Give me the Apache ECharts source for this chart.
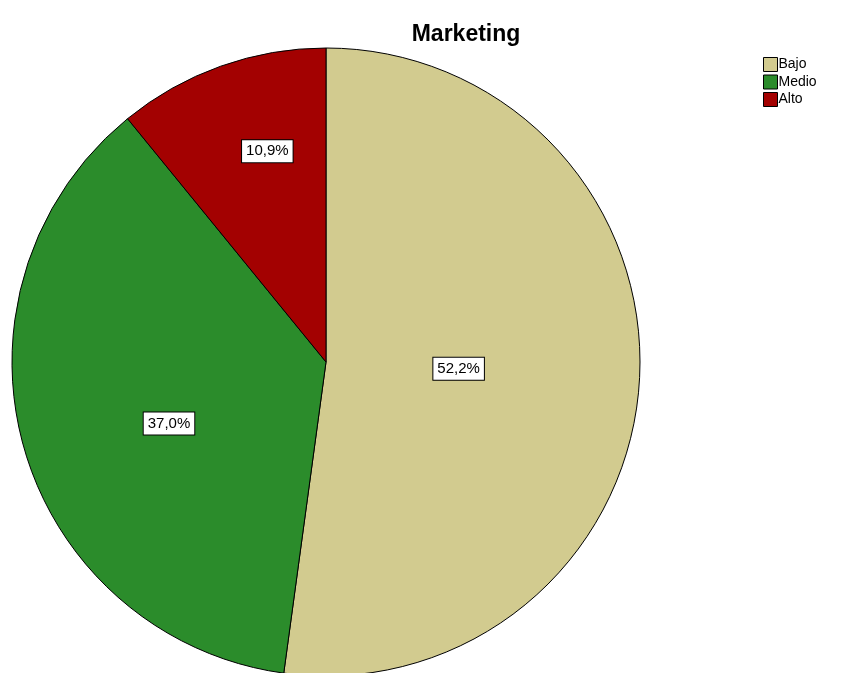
<!DOCTYPE html>
<html>
<head>
<meta charset="utf-8">
<script src="https://cdn.jsdelivr.net/npm/echarts@6/dist/echarts.min.js"></script>
<style>
  html, body { margin: 0; padding: 0; background: #fff; }
  #chart { width: 843px; height: 673px; }
</style>
</head>
<body>
<div id="chart"></div>
<script>
// Marketing level distribution (percent of respondents)
const categories = ['Bajo', 'Medio', 'Alto'];
const percents = [52.2, 37.0, 10.9];
const colors = ['#D2CB8F', '#2B8C2B', '#A30101'];
// Label nudges inside each slice
const labelOffsets = [[-27, -4], [-3, 18], [-5, -60]];

const chart = echarts.init(document.getElementById('chart'));

const data = categories.map((name, i) => ({
  name,
  value: percents[i],
  itemStyle: { color: colors[i] },
  label: { offset: labelOffsets[i] }
}));

chart.setOption({
  animation: false,
  title: {
    text: 'Marketing',
    left: 461,
    top: 18,
    textAlign: 'center',
    textStyle: { fontFamily: 'Liberation Sans, Arial', fontSize: 23, fontWeight: 'bold', color: '#000' }
  },
  legend: {
    orient: 'vertical',
    left: 758,
    top: 52,
    itemWidth: 14,
    itemHeight: 14,
    itemGap: 2.5,
    icon: 'rect',
    data: categories.map(name => ({ name, itemStyle: { borderColor: '#000', borderWidth: 1 } })),
    textStyle: { fontFamily: 'Liberation Sans, Arial', fontSize: 14, color: '#000', padding: [0, 0, 0, -4] }
  },
  series: [{
    type: 'pie',
    center: [326, 362],
    radius: 314,
    startAngle: 90,
    clockwise: true,
    data,
    itemStyle: { borderColor: '#000', borderWidth: 1 },
    labelLine: { show: false },
    emphasis: { disabled: true },
    label: {
      show: true,
      position: 'inside',
      formatter: p => p.value.toFixed(1).replace('.', ',') + '%',
      fontFamily: 'Liberation Sans, Arial',
      fontSize: 15,
      color: '#000',
      backgroundColor: '#fff',
      borderColor: '#000',
      borderWidth: 1,
      padding: [4, 4, 3, 4]
    }
  }]
});
</script>
</body>
</html>
